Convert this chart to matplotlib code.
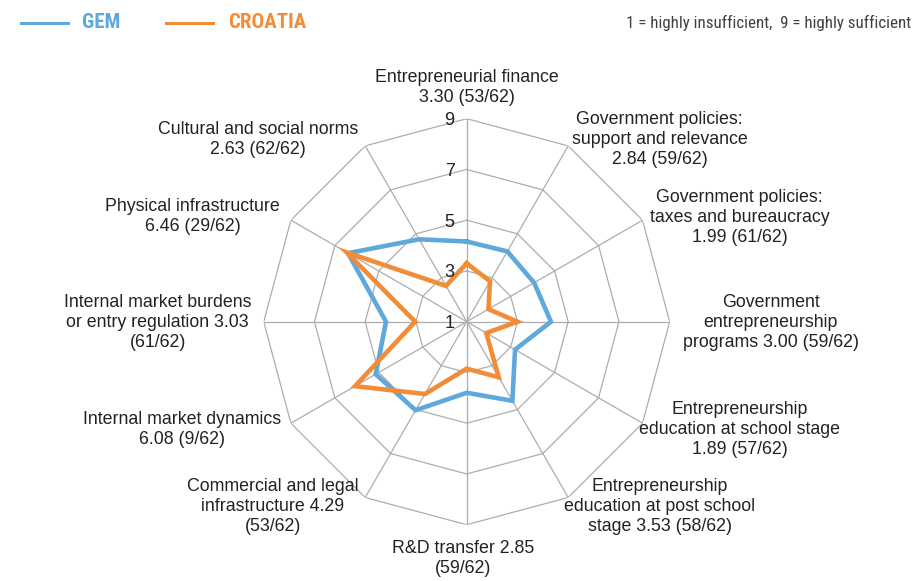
import numpy as np
import matplotlib
matplotlib.use("Agg")
import matplotlib.pyplot as plt
import matplotlib.transforms as mtrans
from matplotlib import font_manager

# ---------------- data ----------------
categories = [
    "Entrepreneurial finance\n3.30 (53/62)",
    "Government policies:\nsupport and relevance\n2.84 (59/62)",
    "Government policies:\ntaxes and bureaucracy\n1.99 (61/62)",
    "Government\nentrepreneurship\nprograms 3.00 (59/62)",
    "Entrepreneurship\neducation at school stage\n1.89 (57/62)",
    "Entrepreneurship\neducation at post school\nstage 3.53 (58/62)",
    "R&D transfer 2.85\n(59/62)",
    "Commercial and legal\ninfrastructure 4.29\n(53/62)",
    "Internal market dynamics\n6.08 (9/62)",
    "Internal market burdens\nor entry regulation 3.03\n(61/62)",
    "Physical infrastructure\n6.46 (29/62)",
    "Cultural and social norms\n2.63 (62/62)",
]
gem = [4.16, 4.20, 4.07, 4.32, 3.20, 4.60, 3.80, 5.03, 5.14, 4.18, 6.40, 4.75]
croatia = [3.30, 2.84, 1.99, 3.00, 1.89, 3.53, 2.85, 4.29, 6.08, 3.03, 6.46, 2.63]
ring_values = [3, 5, 7, 9]
tick_values = [1, 3, 5, 7, 9]
series_names = ["GEM", "CROATIA"]
scale_note = "1 = highly insufficient,  9 = highly sufficient"

# ---------------- layout / style ----------------
BLUE = "#5FA8DC"
ORANGE = "#F28C36"
GRID = "#ADADAD"
TEXT = "#222222"

ttf = font_manager.fontManager.ttflist
names = {f.name for f in ttf}
narrow = None
for cand in ["Roboto Condensed", "Liberation Sans Narrow", "Open Sans Condensed",
             "DejaVu Sans Condensed", "Noto Sans Condensed"]:
    if cand in names:
        narrow = cand
        break
narrow_stretch = "normal"
if narrow is None:
    cond = [f for f in ttf if str(f.stretch) in ("condensed", "semi-condensed", "extra-condensed")]
    if cond:
        narrow = cond[0].name
        narrow_stretch = cond[0].stretch
    else:
        narrow = "Roboto" if "Roboto" in names else "DejaVu Sans"
label_font = "Liberation Sans"

W, H = 919, 581
fig = plt.figure(figsize=(W / 100, H / 100), dpi=100)
cx, cy, R = 466.7, 321.7, 203.0
ax = fig.add_axes([(cx - R) / W, (H - cy - R) / H, 2 * R / W, 2 * R / H],
                  projection="polar")
ax.set_theta_zero_location("N")
ax.set_theta_direction(-1)
ax.set_ylim(1, 9)
ax.set_xticks([])
ax.set_yticks([])
ax.grid(False)
ax.spines["polar"].set_visible(False)
ax.patch.set_alpha(0)

n = len(categories)
theta = np.arange(n) * 2 * np.pi / n
theta_closed = np.append(theta, theta[0])

for rv in ring_values:
    ax.plot(theta_closed, [rv] * (n + 1), color=GRID, lw=0.9, zorder=1)
for t in theta:
    ax.plot([t, t], [1, 9], color=GRID, lw=0.9, zorder=1)

ax.plot(theta_closed, gem + gem[:1], color=BLUE, lw=3.3, zorder=3,
        solid_joinstyle="miter")
ax.plot(theta_closed, croatia + croatia[:1], color=ORANGE, lw=3.3, zorder=4,
        solid_joinstyle="miter")

tick_tr = mtrans.offset_copy(ax.transData, fig=fig, x=-12, y=-2, units="dots")
for tv in tick_values:
    ax.text(0, tv, str(tv), transform=tick_tr, ha="right", va="center",
            fontsize=13, family=label_font, color=TEXT, zorder=5)

label_offsets = [
    (0, -234), (193, -182), (273, -104), (304, 1),
    (273, 108), (193, 185), (-4, 237), (-194, 185),
    (-285, 108), (-309, 1), (-274, -105), (-209, -182),
]
for lab, (dx, dy) in zip(categories, label_offsets):
    ax.text(0.5 + dx / (2 * R), 0.5 - dy / (2 * R), lab, transform=ax.transAxes,
            ha="center", va="center", multialignment="center",
            fontsize=12.8, family=label_font, color=TEXT, linespacing=1.25)

# header
ly = 1 - 23 / H
renderer = fig.canvas.get_renderer()


def fit_text(x, s, target_w, size, **kw):
    t = fig.text(x, ly, s, fontsize=size, **kw)
    w = t.get_window_extent(renderer).width
    if w > target_w:
        t.set_fontsize(size * target_w / w)
    return t


fig.add_artist(plt.Line2D([21 / W, 68 / W], [ly, ly], color=BLUE, lw=2.2,
                          transform=fig.transFigure))
fit_text(82 / W, series_names[0], 44, 15, color=BLUE, fontweight="bold",
         family=narrow, stretch=narrow_stretch, ha="left", va="center")
fig.add_artist(plt.Line2D([166 / W, 213 / W], [ly, ly], color=ORANGE, lw=2.2,
                          transform=fig.transFigure))
fit_text(228 / W, series_names[1], 81, 15, color=ORANGE, fontweight="bold",
         family=narrow, stretch=narrow_stretch, ha="left", va="center")
fit_text(911 / W, scale_note, 284, 15, color="#404040",
         family=narrow, stretch=narrow_stretch, ha="right", va="center")

fig.savefig("out.png", dpi=100)
